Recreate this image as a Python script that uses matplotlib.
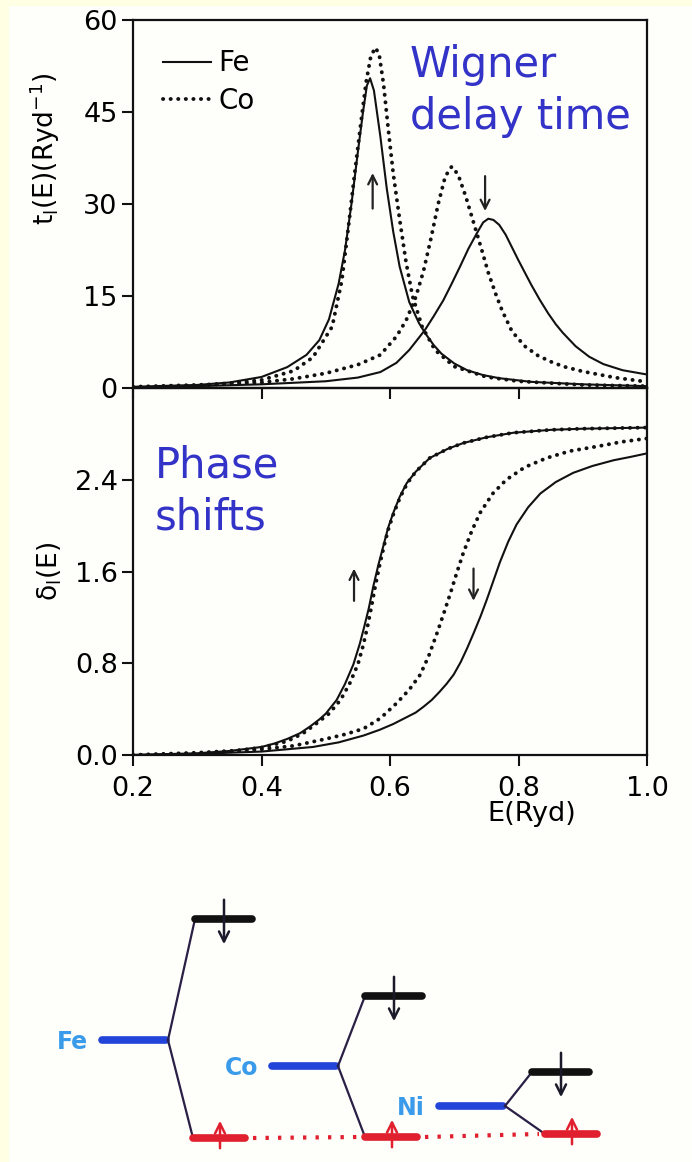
import numpy as np
import matplotlib.pyplot as plt
from matplotlib.patches import Rectangle

# Wigner delay time t_l(E) (Ryd^-1)
e_fe_up_t = [0.20, 0.30, 0.35, 0.40, 0.44, 0.47, 0.49, 0.505, 0.52, 0.53, 0.54, 0.55, 0.558, 0.564,
             0.569, 0.575, 0.585, 0.595, 0.605, 0.615, 0.63, 0.645, 0.655, 0.668, 0.68, 0.70, 0.72,
             0.745, 0.77, 0.82, 0.90, 1.00]
t_fe_up = [0.2, 0.5, 0.9, 1.8, 3.4, 5.4, 7.8, 11.2, 17.0, 22.5, 30.0, 38.5, 45.0, 49.3,
           50.5, 48.5, 41.0, 32.5, 25.5, 19.8, 14.0, 10.6, 8.9, 7.0, 5.6, 4.0, 2.9,
           2.1, 1.6, 1.0, 0.6, 0.3]

e_co_up_t = [0.20, 0.30, 0.40, 0.45, 0.48, 0.51, 0.525, 0.535, 0.545, 0.555, 0.563, 0.570, 0.577,
             0.583, 0.59, 0.597, 0.605, 0.615, 0.625, 0.635, 0.65, 0.67, 0.70, 0.75, 0.80, 0.90, 1.00]
t_co_up = [0.1, 0.3, 1.3, 2.8, 5.0, 10.0, 17.5, 26.0, 35.0, 43.5, 50.0, 54.0, 55.5,
           54.5, 49.5, 42.5, 35.0, 27.5, 20.5, 15.0, 10.0, 6.2, 3.5, 1.8, 1.1, 0.5, 0.3]

e_co_dn_t = [0.20, 0.30, 0.40, 0.45, 0.50, 0.55, 0.585, 0.61, 0.625, 0.64, 0.652, 0.664, 0.675, 0.686,
             0.696, 0.706, 0.718, 0.73, 0.742, 0.753, 0.765, 0.775, 0.79, 0.81, 0.83, 0.85, 0.87,
             0.90, 0.95, 1.00]
t_co_dn = [0.2, 0.5, 0.9, 1.5, 2.4, 3.8, 5.4, 8.4, 11.0, 14.8, 19.0, 24.5, 30.0, 34.5,
           36.1, 34.8, 31.2, 27.0, 22.8, 18.8, 15.2, 12.5, 9.2, 6.8, 5.3, 4.3, 3.5,
           2.7, 1.7, 1.0]

e_fe_dn_t = [0.20, 0.30, 0.40, 0.50, 0.55, 0.585, 0.61, 0.63, 0.654, 0.668, 0.683, 0.696, 0.709, 0.722,
             0.735, 0.745, 0.753, 0.761, 0.77, 0.78, 0.79, 0.80, 0.81, 0.82, 0.833, 0.846, 0.858,
             0.869, 0.889, 0.91, 0.932, 0.962, 1.00]
t_fe_dn = [0.1, 0.3, 0.6, 1.1, 1.7, 2.6, 4.1, 6.2, 9.4, 11.7, 14.3, 17.0, 19.8, 22.7,
           25.2, 27.0, 27.6, 27.4, 26.6, 25.0, 22.9, 20.8, 18.8, 16.8, 14.4, 12.2, 10.4,
           9.0, 6.8, 5.1, 3.9, 2.9, 2.2]

# phase shifts delta_l(E)
e_fe_up_d = [0.20, 0.30, 0.35, 0.40, 0.42, 0.44, 0.46, 0.476, 0.49, 0.50, 0.517, 0.53, 0.543, 0.553,
             0.56, 0.567, 0.574, 0.582, 0.59, 0.597, 0.605, 0.615, 0.626, 0.64, 0.662, 0.69, 0.714,
             0.75, 0.792, 0.85, 0.90, 1.00]
d_fe_up = [0.0, 0.015, 0.035, 0.07, 0.10, 0.14, 0.19, 0.25, 0.31, 0.36, 0.48, 0.62, 0.79, 0.97,
           1.12, 1.28, 1.47, 1.66, 1.83, 1.98, 2.11, 2.25, 2.37, 2.47, 2.59, 2.67, 2.72,
           2.77, 2.81, 2.835, 2.845, 2.855]

e_co_up_d = [0.20, 0.30, 0.35, 0.40, 0.44, 0.465, 0.482, 0.505, 0.523, 0.537, 0.55, 0.558, 0.565, 0.571,
             0.577, 0.584, 0.591, 0.598, 0.606, 0.616, 0.627, 0.64, 0.662, 0.69, 0.714, 0.75, 0.792,
             0.85, 0.90, 1.00]
d_co_up = [0.0, 0.012, 0.03, 0.065, 0.12, 0.19, 0.26, 0.36, 0.48, 0.62, 0.79, 0.95, 1.12, 1.29,
           1.47, 1.66, 1.83, 1.98, 2.11, 2.25, 2.37, 2.47, 2.59, 2.67, 2.72, 2.77, 2.81,
           2.835, 2.845, 2.855]

e_co_dn_d = [0.20, 0.30, 0.40, 0.45, 0.50, 0.53, 0.559, 0.585, 0.61, 0.63, 0.647, 0.66, 0.673, 0.684,
             0.694, 0.704, 0.714, 0.727, 0.74, 0.76, 0.781, 0.81, 0.844, 0.88, 0.922, 0.96, 1.00]
d_co_dn = [0.0, 0.02, 0.05, 0.08, 0.14, 0.18, 0.23, 0.32, 0.45, 0.57, 0.70, 0.86, 1.06, 1.24,
           1.41, 1.59, 1.76, 1.95, 2.11, 2.28, 2.40, 2.51, 2.59, 2.65, 2.69, 2.73, 2.76]

e_fe_dn_d = [0.20, 0.30, 0.40, 0.48, 0.52, 0.559, 0.584, 0.605, 0.626, 0.64, 0.652, 0.665, 0.677, 0.688,
             0.699, 0.71, 0.72, 0.73, 0.741, 0.751, 0.761, 0.771, 0.784, 0.797, 0.815, 0.834, 0.858,
             0.885, 0.915, 0.948, 0.975, 1.00]
d_fe_dn = [0.0, 0.01, 0.03, 0.07, 0.11, 0.17, 0.22, 0.27, 0.33, 0.37, 0.42, 0.48, 0.55, 0.62,
           0.70, 0.81, 0.93, 1.06, 1.21, 1.36, 1.52, 1.68, 1.86, 2.01, 2.16, 2.28, 2.38,
           2.46, 2.52, 2.57, 2.60, 2.63]

x_ticks = [0.2, 0.4, 0.6, 0.8, 1.0]
t_ticks = [0, 15, 30, 45, 60]
d_ticks = [0.0, 0.8, 1.6, 2.4]

# sketch of the exchange split d levels (arbitrary energy units)
elements = ['Fe', 'Co', 'Ni']
e_atom = [97, 71, 31]
e_down = [218, 141, 65]
e_up = [-1, 0, 3]

W, H = 692, 1162
plt.rcParams['font.family'] = ['DejaVu Sans']
fig = plt.figure(figsize=(W / 100, H / 100), dpi=100, facecolor='#FFFFE3')
fig.patches.append(Rectangle((9 / W, 0), 1, 1 - 6 / H, transform=fig.transFigure,
                             facecolor='#FEFEFB', edgecolor='none', zorder=-10))

left, width = 133 / W, 514 / W
ax1 = fig.add_axes([left, 1 - 388 / H, width, 368 / H])
ax2 = fig.add_axes([left, 1 - 755 / H, width, 367 / H])

dot = dict(color='#111111', lw=2.8, ls=(0, (0.05, 1.9)), dash_capstyle='round')
sol = dict(color='#111111', lw=1.5)

ax1.plot(e_fe_up_t, t_fe_up, label='Fe', **sol)
ax1.plot(e_co_up_t, t_co_up, label='Co', **dot)
ax1.plot(e_co_dn_t, t_co_dn, **dot)
ax1.plot(e_fe_dn_t, t_fe_dn, **sol)

ax2.plot(e_fe_up_d, d_fe_up, **sol)
ax2.plot(e_co_up_d, d_co_up, **dot)
ax2.plot(e_co_dn_d, d_co_dn, **dot)
ax2.plot(e_fe_dn_d, d_fe_dn, **sol)

for ax in (ax1, ax2):
    ax.set_facecolor('none')
    ax.set_xlim(0.2, 1.0)
    ax.set_xticks(x_ticks)
    for s in ax.spines.values():
        s.set_linewidth(1.6)
        s.set_color('#111111')
    ax.tick_params(direction='out', length=8, width=1.5, labelsize=19.5, pad=3, color='#111111')

ax1.set_ylim(0, 60)
ax1.set_yticks(t_ticks)
ax1.tick_params(axis='x', labelbottom=False)
ax2.set_ylim(0, 3.2)
ax2.set_yticks(d_ticks)
ax2.set_yticklabels(['%.1f' % v for v in d_ticks])
ax2.set_xticklabels(['%.1f' % v for v in x_ticks])
ax2.tick_params(axis='x', pad=7)

ax1.set_ylabel(r'$\mathregular{t_l(E)(Ryd^{-1})}$', fontsize=19)
ax1.yaxis.set_label_coords(-0.138, 0.65)
ax2.set_ylabel(r'$\mathregular{\delta_l(E)}$', fontsize=19)
ax2.yaxis.set_label_coords(-0.135, 0.5)
ax2.set_xlabel('E(Ryd)', fontsize=19.5)
ax2.xaxis.set_label_coords(0.776, -0.125)

ax1.legend(loc='upper left', bbox_to_anchor=(0.058, 0.92), frameon=False, fontsize=20,
           handlelength=1.75, handletextpad=0.25, labelspacing=0.33, borderpad=0, borderaxespad=0)

arrow = dict(arrowstyle='->', lw=1.6, color='#222222', mutation_scale=16)
ax1.annotate('', xy=(0.573, 35.5), xytext=(0.573, 28.8), arrowprops=arrow)
ax1.annotate('', xy=(0.748, 28.4), xytext=(0.748, 35.0), arrowprops=arrow)
ax2.annotate('', xy=(0.544, 1.65), xytext=(0.544, 1.32), arrowprops=arrow)
ax2.annotate('', xy=(0.730, 1.32), xytext=(0.730, 1.65), arrowprops=arrow)

blue = '#3333C8'
ax1.text(0.539, 0.935, 'Wigner\ndelay time', transform=ax1.transAxes, color=blue,
         fontsize=30, va='top', ha='left', linespacing=1.3)
ax2.text(0.043, 0.845, 'Phase\nshifts', transform=ax2.transAxes, color=blue,
         fontsize=30, va='top', ha='left', linespacing=1.3)

# level diagram
ax3 = fig.add_axes([0, 0, 1, 302 / H])
ax3.set_xlim(0, W)
ax3.set_ylim(-25, 277)
ax3.axis('off')
vertex_x = [168, 338, 505]
up_off = [25, 27, 40]
for i, name in enumerate(elements):
    v = vertex_x[i]
    ax3.plot([v - 66, v - 2], [e_atom[i]] * 2, color='#2244D8', lw=5.5, solid_capstyle='round')
    ax3.text(v - 80, e_atom[i] - 2, name, color='#3A9BEA', fontsize=17, fontweight='bold',
             ha='right', va='center')
    ax3.plot([v, v + 27], [e_atom[i], e_down[i]], color='#2A1F44', lw=1.6)
    ax3.plot([v, v + up_off[i]], [e_atom[i], e_up[i]], color='#2A1F44', lw=1.6)
    ax3.plot([v + 27, v + 84], [e_down[i]] * 2, color='#111111', lw=5.5, solid_capstyle='round')
    ax3.plot([v + up_off[i], v + up_off[i] + 52], [e_up[i]] * 2, color='#E0202E', lw=5.5,
             solid_capstyle='round')
    ax3.annotate('', xy=(v + 56, e_down[i] - 28), xytext=(v + 56, e_down[i] + 22),
                 arrowprops=dict(arrowstyle='->', lw=1.8, color='#1A1A2A', mutation_scale=18))
    ax3.annotate('', xy=(v + up_off[i] + 27, e_up[i] + 20), xytext=(v + up_off[i] + 27, e_up[i] - 13),
                 arrowprops=dict(arrowstyle='->', lw=1.8, color='#E0202E', mutation_scale=18))
    if i < len(elements) - 1:
        ax3.plot([v + up_off[i] + 60, vertex_x[i + 1] + up_off[i + 1] - 6], [e_up[i], e_up[i + 1]],
                 color='#E0202E', lw=3, ls=(0, (0.8, 2.2)))

fig.savefig('out.png', dpi=100, facecolor=fig.get_facecolor())
